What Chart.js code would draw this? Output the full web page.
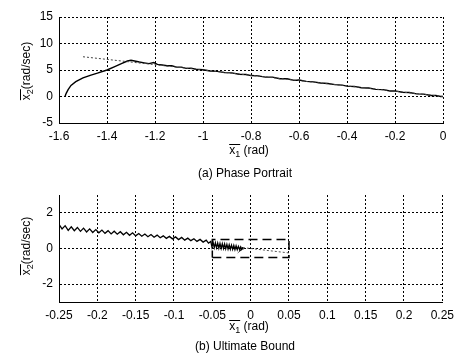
<!DOCTYPE html>
<html>
<head>
<meta charset="utf-8">
<script src="https://cdn.jsdelivr.net/npm/chart.js@4"></script>
<style>
  body { margin: 0; background: #fff; width: 460px; height: 356px; position: relative; overflow: hidden;
         font-family: "Liberation Sans", Arial, sans-serif; font-size: 12px; color: #000; }
  .box { position: absolute; left: 0; width: 460px; }
  .lbl { position: absolute; white-space: nowrap; transform: translate(-50%, -50%); line-height: 14px; }
  .rot { transform: translate(-50%, -50%) rotate(-90deg); }
  .ov { display: inline-block; border-top: 1px solid #000; line-height: 10px; padding-top: 0; }
  sub { font-size: 9px; vertical-align: -3px; line-height: 0; }
</style>
</head>
<body>
<div class="box" style="top:0;height:180px"><canvas id="phaseChart" width="460" height="180"></canvas></div>
<div class="box" style="top:180px;height:176px"><canvas id="boundChart" width="460" height="176"></canvas></div>

<div class="lbl rot" style="left:26px;top:71px"><span class="ov">x<sub>2</sub></span>(rad/sec)</div>
<div class="lbl" style="left:249px;top:150px"><span class="ov">x<sub>1</sub></span> (rad)</div>
<div class="lbl" style="left:245px;top:173px">(a) Phase Portrait</div>

<div class="lbl rot" style="left:26px;top:246px"><span class="ov">x<sub>2</sub></span>(rad/sec)</div>
<div class="lbl" style="left:249px;top:326px"><span class="ov">x<sub>1</sub></span> (rad)</div>
<div class="lbl" style="left:245px;top:346px">(b) Ultimate Bound</div>

<script>
// Tick values
const phaseXTicks = [-1.6, -1.4, -1.2, -1, -0.8, -0.6, -0.4, -0.2, 0];
const phaseYTicks = [-5, 0, 5, 10, 15];
const boundXTicks = [-0.25, -0.2, -0.15, -0.1, -0.05, 0, 0.05, 0.1, 0.15, 0.2, 0.25];
const boundYTicks = [-2, 0, 2];

// (a) phase portrait trajectory
const phaseX1 = [-1.575, -1.570, -1.562, -1.550, -1.530, -1.500, -1.470, -1.440, -1.400, -1.370,
  -1.340, -1.315, -1.300, -1.285, -1.265, -1.245, -1.225, -1.205, -1.190, -1.170,
  -1.150, -1.130, -1.110, -1.090, -1.070, -1.050, -1.030, -1.000, -0.970, -0.940,
  -0.910, -0.880, -0.850, -0.820, -0.800, -0.770, -0.740, -0.710, -0.680, -0.650,
  -0.620, -0.600, -0.570, -0.540, -0.510, -0.480, -0.450, -0.420, -0.400, -0.370,
  -0.340, -0.310, -0.280, -0.250, -0.220, -0.200, -0.170, -0.140, -0.110, -0.080,
  -0.050, -0.030, -0.010, 0];
const phaseX2 = [0, 0.6, 1.3, 2.1, 2.8, 3.5, 4.0, 4.4, 5.0, 5.6,
  6.2, 6.7, 6.85, 6.7, 6.5, 6.35, 6.2, 6.4, 6.05, 5.95,
  5.8, 5.8, 5.55, 5.55, 5.3, 5.35, 5.15, 5.05, 4.8, 4.75,
  4.5, 4.45, 4.2, 4.15, 3.95, 3.9, 3.65, 3.65, 3.35, 3.35,
  3.05, 3.1, 2.85, 2.75, 2.55, 2.45, 2.25, 2.15, 1.95, 1.9,
  1.65, 1.6, 1.35, 1.3, 1.05, 1.05, 0.8, 0.75, 0.5, 0.45,
  0.2, 0.2, 0.0, 0];
// (a) sliding line
const slideAX1 = [-1.5, 0];
const slideAX2 = [7.5, 0];

// (b) ultimate bound trajectory
const boundX1 = [-0.250, -0.246, -0.242, -0.238, -0.234, -0.230, -0.226, -0.222, -0.218, -0.214,
  -0.210, -0.206, -0.202, -0.198, -0.194, -0.190, -0.186, -0.182, -0.178, -0.174,
  -0.170, -0.166, -0.162, -0.158, -0.154, -0.150, -0.146, -0.142, -0.138, -0.134,
  -0.130, -0.126, -0.122, -0.118, -0.114, -0.110, -0.106, -0.102, -0.098, -0.094,
  -0.090, -0.086, -0.082, -0.078, -0.074, -0.070, -0.066, -0.062, -0.058, -0.055,
  -0.0520, -0.0505, -0.0490, -0.0475, -0.0460, -0.0445, -0.0430, -0.0415, -0.0400, -0.0385,
  -0.0370, -0.0355, -0.0340, -0.0325, -0.0310, -0.0295, -0.0280, -0.0265, -0.0250, -0.0235,
  -0.0220, -0.0205, -0.0190, -0.0175, -0.0160, -0.0145, -0.0130, -0.0115, -0.0100, -0.0120,
  -0.0095, -0.0110, -0.0100];
const boundX2 = [1.35, 1.10, 1.28, 1.02, 1.22, 1.00, 1.18, 0.96, 1.14, 0.93,
  1.10, 0.90, 1.06, 0.88, 1.03, 0.85, 1.00, 0.82, 0.97, 0.80,
  0.94, 0.77, 0.91, 0.74, 0.88, 0.71, 0.84, 0.69, 0.81, 0.66,
  0.78, 0.63, 0.75, 0.60, 0.71, 0.57, 0.68, 0.54, 0.65, 0.50,
  0.62, 0.47, 0.58, 0.44, 0.55, 0.40, 0.51, 0.36, 0.47, 0.30,
  0.40, 0.08, 0.34, 0.05, 0.32, 0.04, 0.30, 0.02, 0.28, 0.00,
  0.27, 0.00, 0.25, -0.02, 0.23, -0.03, 0.21, -0.04, 0.19, -0.05,
  0.17, -0.06, 0.15, -0.06, 0.12, -0.06, 0.09, -0.04, 0.06, -0.05,
  0.04, -0.02, 0.00];
// (b) sliding line and bound box
const slideBX1 = [-0.01, 0.05];
const slideBX2 = [0.05, -0.25];
const boxX1 = [-0.05, 0.05, 0.05, -0.05, -0.05];
const boxX2 = [-0.5, -0.5, 0.5, 0.5, -0.5];

function pts(xs, ys) {
    return xs.map((x, i) => ({ x: x, y: ys[i] }));
}

const tickFont = { family: 'Liberation Sans', size: 12 };

function axis(min, max, ticks, pos, fitSize) {
    return {
        type: 'linear',
        position: pos,
        min: min,
        max: max,
        afterBuildTicks: s => { s.ticks = ticks.map(v => ({ value: v })); },
        afterFit: s => {
            if (pos === 'left') s.width = fitSize; else s.height = fitSize;
        },
        grid: { color: '#000', lineWidth: 1, drawTicks: false },
        border: { display: true, color: '#000', width: 1, dash: [2, 2] },
        ticks: {
            color: '#000',
            font: tickFont,
            padding: 6,
            maxRotation: 0,
            autoSkip: false,
            callback: v => String(Math.round(v * 100) / 100)
        }
    };
}

const commonOptions = {
    responsive: false,
    animation: false,
    events: [],
    plugins: { legend: { display: false }, tooltip: { enabled: false } },
    elements: { point: { radius: 0 }, line: { tension: 0 } }
};

new Chart(document.getElementById('phaseChart'), {
    type: 'scatter',
    data: {
        datasets: [{
            data: pts(slideAX1, slideAX2),
            showLine: true,
            borderColor: '#444',
            borderWidth: 1,
            borderDash: [2, 2]
        }, {
            data: pts(phaseX1, phaseX2),
            showLine: true,
            borderColor: '#000',
            borderWidth: 1.4
        }]
    },
    options: {
        ...commonOptions,
        layout: { padding: { top: 17, right: 17, bottom: 37, left: 0 } },
        scales: {
            x: axis(-1.6, 0, phaseXTicks, 'bottom', 20),
            y: axis(-5, 15, phaseYTicks, 'left', 59)
        }
    }
});

new Chart(document.getElementById('boundChart'), {
    type: 'scatter',
    data: {
        datasets: [{
            data: pts(slideBX1, slideBX2),
            showLine: true,
            borderColor: '#555',
            borderWidth: 1,
            borderDash: [2, 2]
        }, {
            data: pts(boxX1, boxX2),
            showLine: true,
            borderColor: '#000',
            borderWidth: 1.5,
            borderDash: [9, 5]
        }, {
            data: pts(boundX1, boundX2),
            showLine: true,
            borderColor: '#000',
            borderWidth: 1.3
        }]
    },
    options: {
        ...commonOptions,
        layout: { padding: { top: 15, right: 16, bottom: 34, left: 0 } },
        scales: {
            x: axis(-0.25, 0.25, boundXTicks, 'bottom', 20),
            y: axis(-3, 3, boundYTicks, 'left', 59)
        }
    }
});
</script>
</body>
</html>
